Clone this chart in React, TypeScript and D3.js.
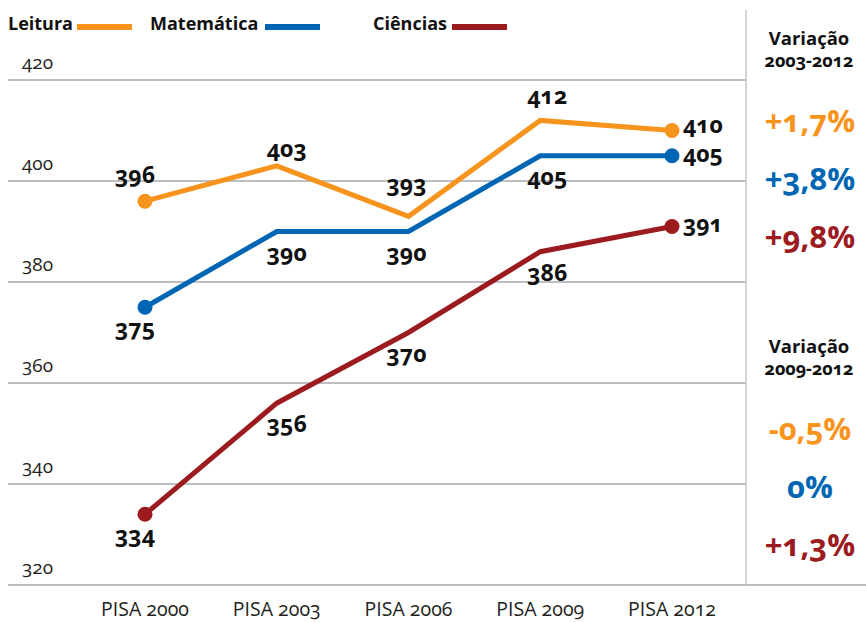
import { scaleLinear, scalePoint, line as d3line } from "d3";

const W = 866;
const H = 622;

const cycles = ["PISA 2000", "PISA 2003", "PISA 2006", "PISA 2009", "PISA 2012"];
const seriesNames = ["Leitura", "Matemática", "Ciências"];
const seriesColors = ["#F7941D", "#0066B3", "#9B1B1F"];

const leitura = [396, 403, 393, 412, 410];
const matematica = [375, 390, 390, 405, 405];
const ciencias = [334, 356, 370, 386, 391];
const allSeries = [leitura, matematica, ciencias];

const yTicks = [320, 340, 360, 380, 400, 420];

// label placement per point: a = above, b = below, r = right of the marker
const placement = [
  ["a", "a", "a", "a", "r"],
  ["b", "b", "b", "b", "r"],
  ["b", "b", "b", "b", "r"],
];
const aboveDy = [-18, -9, -24, -16, 0];
const rightDy = [2, 6, 6];
const colShift = [-10, 10, -2, 7, 0];

const varTitles = [
  ["Variação", "2003-2012"],
  ["Variação", "2009-2012"],
];
const var0312 = ["+1,7%", "+3,8%", "+9,8%"];
const var0912 = ["-0,5%", "0%", "+1,3%"];

const legendX = [8, 150, 373];

const GRID = "#A7A9AC";
const PANEL_X = 746;

export default function App() {
  const x = scalePoint<string>().domain(cycles).range([145, 672]);
  const y = scaleLinear().domain([320, 420]).range([585, 80]);

  const path = (vals: number[]) =>
    d3line<number>()
      .x((_, i) => x(cycles[i]) as number)
      .y((v) => y(v))(vals) ?? "";

  const panelBlocks = [
    { titles: varTitles[0], vals: var0312, top: 45 },
    { titles: varTitles[1], vals: var0912, top: 353 },
  ];

  return (
    <svg
      width={W}
      height={H}
      viewBox={`0 0 ${W} ${H}`}
      style={{
        position: "absolute",
        left: 0,
        top: 0,
        background: "#fff",
        fontFamily: "'Open Sans', sans-serif",
        fontVariantNumeric: "oldstyle-nums",
      }}
    >
      {/* grid */}
      {yTicks.map((t) => (
        <g key={t}>
          <line x1={8} x2={t === 320 ? W : PANEL_X} y1={y(t)} y2={y(t)} stroke={GRID} strokeWidth={1.5} />
          <text x={22} y={y(t) - 11} fontSize={19} fill="#231f20">
            {t}
          </text>
        </g>
      ))}
      <line x1={PANEL_X} x2={PANEL_X} y1={10} y2={y(320)} stroke="#c4c4c4" strokeWidth={1.5} />

      {/* x labels */}
      {cycles.map((c) => (
        <text key={c} x={x(c)} y={616} fontSize={19.5} textAnchor="middle" fill="#231f20">
          {c}
        </text>
      ))}

      {/* legend */}
      {seriesNames.map((n, i) => {
        const w = [64, 110, 74][i];
        return (
          <g key={n}>
            <text x={legendX[i]} y={30} fontSize={18} fontWeight={700} fill="#111">
              {n}
            </text>
            <line
              x1={legendX[i] + w + 5}
              x2={legendX[i] + w + 60}
              y1={27}
              y2={27}
              stroke={seriesColors[i]}
              strokeWidth={6}
            />
          </g>
        );
      })}

      {/* series */}
      {allSeries.map((vals, s) => (
        <g key={s}>
          <path d={path(vals)} fill="none" stroke={seriesColors[s]} strokeWidth={5} strokeLinejoin="miter" />
          {[0, vals.length - 1].map((i) => (
            <circle key={i} cx={x(cycles[i])} cy={y(vals[i])} r={7.5} fill={seriesColors[s]} />
          ))}
          {vals.map((v, i) => {
            const px = x(cycles[i]) as number;
            const py = y(v);
            const p = placement[s][i];
            if (p === "r") {
              return (
                <text key={i} x={px + 11} y={py + rightDy[s]} fontSize={23} fontWeight={700} fill="#111">
                  {v}
                </text>
              );
            }
            const ty = p === "a" ? py + aboveDy[i] : py + 29;
            return (
              <text key={i} x={px + colShift[i]} y={ty} fontSize={23} fontWeight={700} textAnchor="middle" fill="#111">
                {v}
              </text>
            );
          })}
        </g>
      ))}

      {/* variation panel */}
      {panelBlocks.map((b, k) => (
        <g key={k}>
          <text x={809} y={b.top} fontSize={18.5} fontWeight={700} textAnchor="middle" fill="#111">
            {b.titles[0]}
          </text>
          <text x={809} y={b.top + 22} fontSize={18} fontWeight={700} textAnchor="middle" fill="#111">
            {b.titles[1]}
          </text>
          {b.vals.map((v, i) => (
            <text
              key={v}
              x={810}
              y={b.top + 87 + i * 58}
              fontSize={31}
              fontWeight={700}
              textAnchor="middle"
              fill={seriesColors[i]}
            >
              {v}
            </text>
          ))}
        </g>
      ))}
    </svg>
  );
}
